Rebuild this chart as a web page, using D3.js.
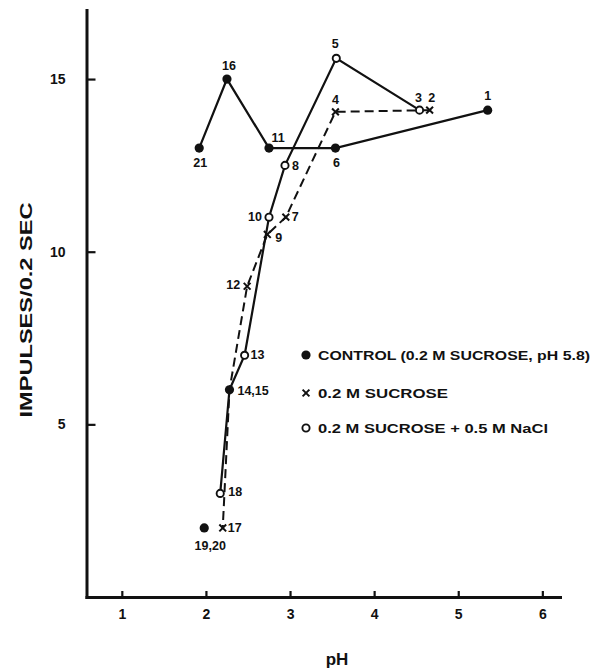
<!DOCTYPE html>
<html>
<head>
<meta charset="utf-8">
<script src="https://cdn.jsdelivr.net/npm/d3@7"></script>
<style>
  html, body { margin: 0; padding: 0; background: #fff; }
  svg { display: block; }
  text { font-family: "Liberation Sans", Arial, sans-serif; font-weight: bold; fill: #111; }
</style>
</head>
<body>
<svg id="chart" width="594" height="670"></svg>
<script>
// Run number, pH and impulse rate for each solution
const controlRuns = ["1", "6", "11", "16", "21"];
const controlPH   = [5.35, 3.54, 2.75, 2.25, 1.92];
const controlRate = [14.1, 13.0, 13.0, 15.0, 13.0];

const sucroseRuns = ["2", "4", "7", "9", "12", "14", "17", "19"];
const sucrosePH   = [4.66, 3.54, 2.95, 2.73, 2.49, 2.28, 2.20, 1.98];
const sucroseRate = [14.1, 14.05, 11.0, 10.5, 9.0, 6.0, 2.0, 2.0];

const naclRuns = ["3", "5", "8", "10", "13", "15", "18", "20"];
const naclPH   = [4.54, 3.55, 2.94, 2.75, 2.46, 2.28, 2.17, 1.98];
const naclRate = [14.1, 15.6, 12.5, 11.0, 7.0, 6.0, 3.0, 2.0];

// Runs that fall on the same spot share one filled mark and one label
const sharedRuns = [["14", "15"], ["19", "20"]];
// Runs measured last that are left off the connecting lines
const unjoinedRuns = ["19", "20"];

const xTicks = [1, 2, 3, 4, 5, 6];
const yTicks = [5, 10, 15];

const legendLabels = [
  "CONTROL (0.2 M SUCROSE, pH 5.8)",
  "0.2 M SUCROSE",
  "0.2 M SUCROSE + 0.5 M NaCl"
];

// Label placement around each mark: dx, dy, anchor
const labelPlace = {
  "1":  [0, -14, "middle"], "6":  [1, 15, "middle"], "11": [9, -10, "middle"],
  "16": [2, -13, "middle"], "21": [1, 15, "middle"],
  "2":  [2, -12, "middle"], "4":  [0, -12, "middle"], "7":  [6, 0, "start"],
  "9":  [8, 4, "start"],    "12": [-7, -1, "end"],    "17": [5, 0, "start"],
  "3":  [-1, -12, "middle"], "5": [-1, -14, "middle"], "8":  [7, 1, "start"],
  "10": [-7, 0, "end"],     "13": [6, 0, "start"],    "18": [8, -1, "start"],
  "14,15": [8, 1, "start"], "19,20": [6, 18, "middle"]
};

const zip = (runs, ph, rate) => runs.map((n, i) => ({ n, ph: ph[i], v: rate[i] }));
const control = zip(controlRuns, controlPH, controlRate);
const sucrose = zip(sucroseRuns, sucrosePH, sucroseRate);
const nacl    = zip(naclRuns, naclPH, naclRate);

const svg = d3.select("#chart");

const x = d3.scaleLinear().domain([0.58, 6.21]).range([86.5, 560]);
const y = d3.scaleLinear().domain([0, 17]).range([597, 10]);

// Axes with inward ticks
const yAxis = svg.append("g").attr("transform", `translate(${x(0.58)},0)`)
  .call(d3.axisLeft(y).tickValues(yTicks).tickSize(-9).tickSizeOuter(0).tickPadding(21));
const xAxis = svg.append("g").attr("transform", `translate(0,${y(0)})`)
  .call(d3.axisBottom(x).tickValues(xTicks).tickSize(-6).tickSizeOuter(0).tickPadding(12).tickFormat(d3.format("d")));

[yAxis, xAxis].forEach(g => {
  g.select(".domain").attr("stroke", "#111").attr("stroke-width", 3).attr("stroke-linecap", "square");
  g.selectAll(".tick line").attr("stroke", "#111").attr("stroke-width", 2.2);
  g.selectAll(".tick text").attr("font-size", 14).attr("font-weight", "bold").attr("fill", "#111")
    .attr("font-family", '"Liberation Sans", Arial, sans-serif');
});

svg.append("text")
  .attr("transform", `translate(32,310) rotate(-90)`)
  .attr("text-anchor", "middle").attr("font-size", 17)
  .attr("textLength", 215).attr("lengthAdjust", "spacingAndGlyphs")
  .text("IMPULSES/0.2 SEC");

svg.append("text")
  .attr("x", 337).attr("y", 665)
  .attr("text-anchor", "middle").attr("font-size", 17)
  .text("pH");

// Connecting lines
const line = d3.line().x(d => x(d.ph)).y(d => y(d.v));
const joined = arr => arr.filter(d => !unjoinedRuns.includes(d.n));

svg.append("path").datum(joined(sucrose))
  .attr("d", line).attr("fill", "none").attr("stroke", "#111")
  .attr("stroke-width", 2).attr("stroke-dasharray", "9,5");
svg.append("path").datum(joined(nacl))
  .attr("d", line).attr("fill", "none").attr("stroke", "#111").attr("stroke-width", 2.2);
svg.append("path").datum(control)
  .attr("d", line).attr("fill", "none").attr("stroke", "#111").attr("stroke-width", 2.2);

const isShared = n => sharedRuns.some(p => p.includes(n));

// Mark drawers
function dot(g, cx, cy) {
  g.append("circle").attr("cx", cx).attr("cy", cy).attr("r", 4.6).attr("fill", "#111");
}
function ring(g, cx, cy) {
  g.append("circle").attr("cx", cx).attr("cy", cy).attr("r", 3.6)
    .attr("fill", "#fff").attr("stroke", "#111").attr("stroke-width", 1.9);
}
function cross(g, cx, cy) {
  const s = 3.4;
  g.append("path")
    .attr("d", `M${cx - s},${cy - s}L${cx + s},${cy + s}M${cx - s},${cy + s}L${cx + s},${cy - s}`)
    .attr("stroke", "#111").attr("stroke-width", 2).attr("fill", "none");
}

const marks = svg.append("g");
const labels = svg.append("g").attr("font-size", 12.5);

function label(text, cx, cy) {
  const p = labelPlace[text] || [0, -12, "middle"];
  labels.append("text")
    .attr("x", cx + p[0]).attr("y", cy + p[1])
    .attr("text-anchor", p[2]).attr("dominant-baseline", "central")
    .text(text);
}

control.forEach(d => { dot(marks, x(d.ph), y(d.v)); label(d.n, x(d.ph), y(d.v)); });
sucrose.filter(d => !isShared(d.n)).forEach(d => { cross(marks, x(d.ph), y(d.v)); label(d.n, x(d.ph), y(d.v)); });
nacl.filter(d => !isShared(d.n)).forEach(d => { ring(marks, x(d.ph), y(d.v)); label(d.n, x(d.ph), y(d.v)); });

sharedRuns.forEach(pair => {
  const d = sucrose.find(p => pair.includes(p.n));
  dot(marks, x(d.ph), y(d.v));
  label(pair.join(","), x(d.ph), y(d.v));
});

// Key
const legendY = [355, 393, 428];
const legendW = [272, 130, 230];
const drawers = [dot, cross, ring];
legendLabels.forEach((t, i) => {
  drawers[i](svg, 306, legendY[i]);
  svg.append("text")
    .attr("x", 318).attr("y", legendY[i])
    .attr("dominant-baseline", "central").attr("font-size", 13)
    .attr("textLength", legendW[i]).attr("lengthAdjust", "spacingAndGlyphs")
    .text(t);
});
</script>
</body>
</html>
